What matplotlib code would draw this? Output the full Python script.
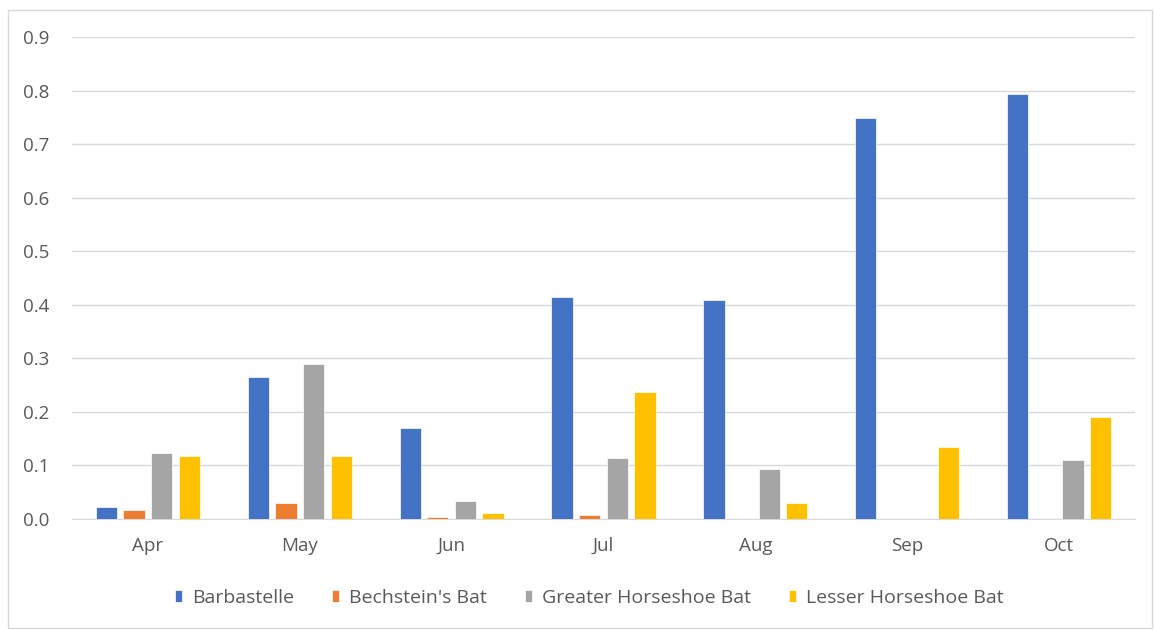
import numpy as np
import matplotlib.pyplot as plt
from matplotlib.patches import Rectangle

# data
months = ['Apr', 'May', 'Jun', 'Jul', 'Aug', 'Sep', 'Oct']
barbastelle = [0.022, 0.265, 0.169, 0.414, 0.408, 0.748, 0.793]
bechstein = [0.016, 0.029, 0.004, 0.008, 0, 0, 0]
greater_hs = [0.124, 0.289, 0.033, 0.113, 0.093, 0, 0.110]
lesser_hs = [0.117, 0.117, 0.011, 0.237, 0.029, 0.134, 0.190]

series = [
    ('Barbastelle', barbastelle, '#4472C4'),
    ("Bechstein's Bat", bechstein, '#ED7D31'),
    ('Greater Horseshoe Bat', greater_hs, '#A5A5A5'),
    ('Lesser Horseshoe Bat', lesser_hs, '#FFC000'),
]

plt.rcParams['font.family'] = ['Open Sans', 'DejaVu Sans']
txt = '#595959'
fs = 13.5
lfs = 14

fig = plt.figure(figsize=(11.55, 6.3), dpi=100)
fig.patches.append(Rectangle((8 / 1155, 2 / 630), 1144 / 1155, 618 / 630,
                             transform=fig.transFigure, fill=False,
                             edgecolor='#D9D9D9', linewidth=1))
ax = fig.add_axes([72 / 1155, 1 - 519 / 630, (1135 - 72) / 1155, (519 - 37) / 630])

x = np.arange(len(months))
w = 0.14
pitch = 0.182
for i, (name, vals, col) in enumerate(series):
    ax.bar(x + (i - 1.5) * pitch, vals, width=w, color=col, label=name,
           edgecolor='white', linewidth=0.5, zorder=3)

ax.set_xlim(-0.5, len(months) - 0.5)
ax.set_ylim(0, 0.9)
ax.set_yticks(np.arange(0, 0.91, 0.1))
ax.set_yticklabels(['%.1f' % v for v in np.arange(0, 0.91, 0.1)])
ax.set_xticks(x)
ax.set_xticklabels(months)
ax.yaxis.grid(True, color='#D9D9D9', linewidth=1, zorder=0)
ax.tick_params(axis='both', length=0, labelsize=fs, colors=txt)
ax.tick_params(axis='x', pad=13)
ax.tick_params(axis='y', pad=35.5)
for lbl in ax.get_yticklabels():
    lbl.set_horizontalalignment('left')
for s in ['top', 'right', 'left']:
    ax.spines[s].set_visible(False)
ax.spines['bottom'].set_color('#D9D9D9')

em = lfs * 100 / 72
ax.legend(loc='center', bbox_to_anchor=(589 / 1155, 1 - 598 / 630),
          bbox_transform=fig.transFigure, ncol=4, frameon=False,
          fontsize=lfs, labelcolor=txt, handlelength=7 / em, handleheight=12 / em,
          handletextpad=10 / em, columnspacing=38 / em)

fig.savefig('out.png', dpi=100)
